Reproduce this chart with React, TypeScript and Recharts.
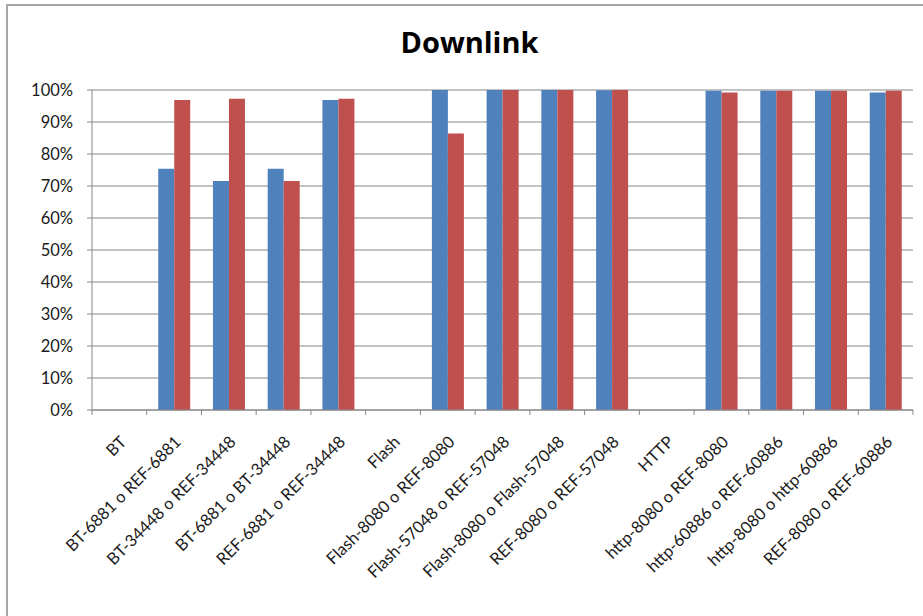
import { BarChart, Bar, XAxis, YAxis, CartesianGrid } from 'recharts'

const categories = [
  'BT',
  'BT-6881 o REF-6881',
  'BT-34448 o REF-34448',
  'BT-6881 o BT-34448',
  'REF-6881 o REF-34448',
  'Flash',
  'Flash-8080 o REF-8080',
  'Flash-57048 o REF-57048',
  'Flash-8080 o Flash-57048',
  'REF-8080 o REF-57048',
  'HTTP',
  'http-8080 o REF-8080',
  'http-60886 o REF-60886',
  'http-8080 o http-60886',
  'REF-8080 o REF-60886',
]

const blueValues = [null, 75.4, 71.6, 75.4, 96.9, null, 100, 100, 100, 99.9, null, 99.8, 99.8, 99.8, 99.2]
const redValues = [null, 96.9, 97.3, 71.6, 97.3, null, 86.4, 100, 100, 100, null, 99.2, 99.8, 99.8, 99.8]

const yTicks = [0, 10, 20, 30, 40, 50, 60, 70, 80, 90, 100]

const data = categories.map((name, i) => ({
  name,
  blue: blueValues[i],
  red: redValues[i],
}))

const FONT = 'Lato, "Liberation Sans", sans-serif'
const AXIS_GRAY = '#868686'

// plot area geometry, used only to put Excel-style ticks between categories
const PLOT_LEFT = 92
const PLOT_RIGHT = 913
const BAND = (PLOT_RIGHT - PLOT_LEFT) / categories.length

function CategoryTick(props: any) {
  const { x, y, payload, index } = props
  const axisY = y - 8
  return (
    <g>
      <line x1={x - BAND / 2} x2={x - BAND / 2} y1={axisY} y2={axisY + 5} stroke={AXIS_GRAY} />
      {index === categories.length - 1 && (
        <line x1={x + BAND / 2} x2={x + BAND / 2} y1={axisY} y2={axisY + 5} stroke={AXIS_GRAY} />
      )}
      <g transform={`translate(${x + 8},${y + 25})`}>
        <text
          transform="rotate(-45)"
          textAnchor="end"
          fontSize={16.5}
          fontFamily={FONT}
          fill="#1a1a1a"
        >
          {payload.value}
        </text>
      </g>
    </g>
  )
}

export default function App() {
  return (
    <div
      style={{
        position: 'absolute',
        left: 0,
        top: 0,
        width: 923,
        height: 616,
        background: '#fff',
        overflow: 'hidden',
      }}
    >
      <div
        style={{
          position: 'absolute',
          left: 6,
          top: 4,
          width: 960,
          height: 660,
          border: '2px solid #a6a6a6',
        }}
      />
      <div
        style={{
          position: 'absolute',
          top: 22,
          left: 8,
          width: 923,
          textAlign: 'center',
          fontFamily: '"Open Sans", sans-serif',
          fontWeight: 700,
          fontSize: 29,
          color: '#000',
        }}
      >
        Downlink
      </div>
      <BarChart
        width={923}
        height={616}
        data={data}
        margin={{ top: 90, right: 923 - PLOT_RIGHT, left: 0, bottom: 16 }}
        barCategoryGap="21%"
        barGap={0}
        style={{ position: 'absolute', left: 0, top: 0 }}
      >
        <CartesianGrid vertical={false} stroke={AXIS_GRAY} strokeWidth={1} />
        <XAxis
          dataKey="name"
          interval={0}
          height={190}
          tickLine={false}
          axisLine={{ stroke: AXIS_GRAY }}
          tick={<CategoryTick />}
        />
        <YAxis
          width={PLOT_LEFT}
          domain={[0, 100]}
          ticks={yTicks}
          interval={0}
          tickFormatter={(v: number) => `${v}%`}
          tickSize={5}
          tickLine={{ stroke: AXIS_GRAY }}
          axisLine={{ stroke: AXIS_GRAY }}
          tick={{ fontSize: 16.5, fontFamily: FONT, fill: '#1a1a1a' }}
          tickMargin={14}
        />
        <Bar dataKey="blue" fill="#4F81BD" isAnimationActive={false} />
        <Bar dataKey="red" fill="#C0504D" isAnimationActive={false} />
      </BarChart>
    </div>
  )
}
